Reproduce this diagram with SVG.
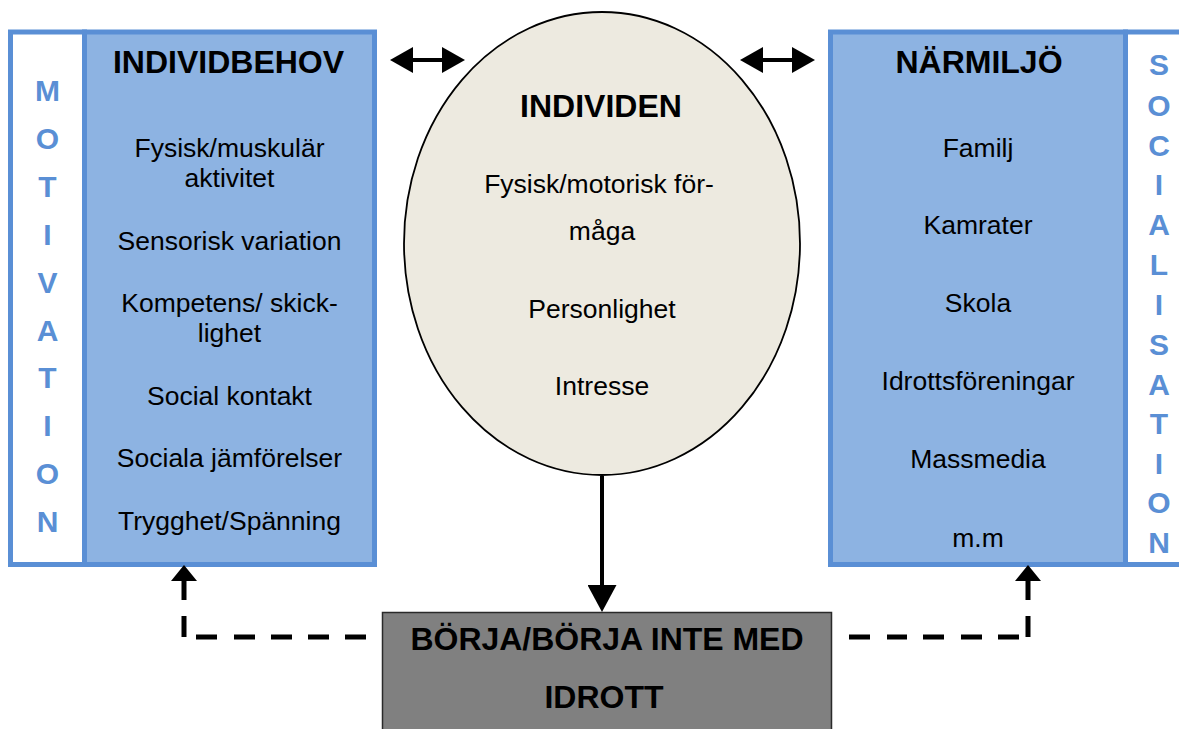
<svg xmlns="http://www.w3.org/2000/svg" width="1179" height="729" viewBox="0 0 1179 729">
<style>
  text { font-family: "Liberation Sans", Arial, sans-serif; text-anchor: middle; fill: #000; }
  .item { font-size: 26.5px; }
  .head { font-size: 32px; font-weight: bold; }
  .side { font-size: 30px; font-weight: bold; fill: #5a8fd5; }
  .panel { fill: #8db3e2; stroke: #5a8fd5; stroke-width: 5; }
  .white { fill: #ffffff; stroke: #5a8fd5; stroke-width: 5; }
  .solid { stroke: #000; stroke-width: 4; fill: none; }
  .dash { stroke: #000; stroke-width: 5; fill: none; }
</style>
<defs>
  <marker id="dbl" markerUnits="userSpaceOnUse" markerWidth="23" markerHeight="26" viewBox="0 0 23 26" refX="8" refY="13" orient="auto-start-reverse">
    <path d="M0,0 L23,13 L0,26 z" fill="#000"/>
  </marker>
  <marker id="down" markerUnits="userSpaceOnUse" markerWidth="27" markerHeight="29" viewBox="0 0 27 29" refX="0" refY="14.5" orient="auto">
    <path d="M0,0 L27,14.5 L0,29 z" fill="#000"/>
  </marker>
  <marker id="up" markerUnits="userSpaceOnUse" markerWidth="16" markerHeight="26" viewBox="0 0 16 26" refX="0" refY="13" orient="auto-start-reverse">
    <path d="M0,0 L16,13 L0,26 z" fill="#000"/>
  </marker>
</defs>
<rect width="1179" height="729" fill="#ffffff"/>

<g id="motivation">
  <rect class="white" x="10.5" y="32" width="74" height="532.5"/>
  <text class="side" x="47.5" y="101">M</text>
  <text class="side" x="47.5" y="149">O</text>
  <text class="side" x="47.5" y="197">T</text>
  <text class="side" x="47.5" y="245">I</text>
  <text class="side" x="47.5" y="293">V</text>
  <text class="side" x="47.5" y="341">A</text>
  <text class="side" x="47.5" y="388">T</text>
  <text class="side" x="47.5" y="436">I</text>
  <text class="side" x="47.5" y="484">O</text>
  <text class="side" x="47.5" y="532">N</text>
</g>

<g id="individbehov">
  <rect class="panel" x="84.5" y="32" width="290" height="532.5"/>
  <text class="head" x="228.5" y="73">INDIVIDBEHOV</text>
  <text class="item" x="229.5" y="157">Fysisk/muskulär</text>
  <text class="item" x="229.5" y="187">aktivitet</text>
  <text class="item" x="229.5" y="250">Sensorisk variation</text>
  <text class="item" x="229.5" y="312">Kompetens/ skick-</text>
  <text class="item" x="229.5" y="342">lighet</text>
  <text class="item" x="229.5" y="405">Social kontakt</text>
  <text class="item" x="229.5" y="467">Sociala jämförelser</text>
  <text class="item" x="229.5" y="530">Trygghet/Spänning</text>
</g>

<g id="individen">
  <ellipse cx="602" cy="243.5" rx="198" ry="231.5" fill="#edeae0" stroke="#000" stroke-width="1.8"/>
  <text class="head" x="601" y="117">INDIVIDEN</text>
  <text class="item" x="599" y="193">Fysisk/motorisk för-</text>
  <text class="item" x="602" y="240">måga</text>
  <text class="item" x="602" y="318">Personlighet</text>
  <text class="item" x="602" y="395">Intresse</text>
</g>

<g id="narmiljo">
  <rect class="panel" x="830.5" y="32" width="295" height="532.5"/>
  <text class="head" x="979" y="73">NÄRMILJÖ</text>
  <text class="item" x="978" y="157">Familj</text>
  <text class="item" x="978" y="234">Kamrater</text>
  <text class="item" x="978" y="312">Skola</text>
  <text class="item" x="978" y="390">Idrottsföreningar</text>
  <text class="item" x="978" y="468">Massmedia</text>
  <text class="item" x="978" y="547">m.m</text>
</g>

<g id="socialisation">
  <rect class="white" x="1125.5" y="32" width="70" height="532.5"/>
  <text class="side" x="1159" y="75">S</text>
  <text class="side" x="1159" y="116">O</text>
  <text class="side" x="1159" y="156">C</text>
  <text class="side" x="1159" y="195">I</text>
  <text class="side" x="1159" y="235">A</text>
  <text class="side" x="1159" y="275">L</text>
  <text class="side" x="1159" y="315">I</text>
  <text class="side" x="1159" y="355">S</text>
  <text class="side" x="1159" y="395">A</text>
  <text class="side" x="1159" y="434">T</text>
  <text class="side" x="1159" y="474">I</text>
  <text class="side" x="1159" y="513">O</text>
  <text class="side" x="1159" y="553">N</text>
</g>

<g id="borja">
  <rect x="382.5" y="612.5" width="449" height="130" fill="#808080" stroke="#2a2a2a" stroke-width="1.5"/>
  <text class="head" x="607" y="650" textLength="393" lengthAdjust="spacingAndGlyphs">BÖRJA/BÖRJA INTE MED</text>
  <text class="head" x="604" y="708">IDROTT</text>
</g>

<g id="connectors">
  <line class="solid" x1="405" y1="60" x2="450" y2="60" marker-start="url(#dbl)" marker-end="url(#dbl)"/>
  <line class="solid" x1="755" y1="60" x2="800" y2="60" marker-start="url(#dbl)" marker-end="url(#dbl)"/>
  <line class="solid" x1="602" y1="476" x2="602" y2="585" marker-end="url(#down)"/>
  <path class="dash" d="M184,581 V637 H366" stroke-dasharray="19 16 21 12 21 17 21 16 21 16 21 16 21 100" marker-start="url(#up)"/>
  <path class="dash" d="M1028,581 V637 H849" stroke-dasharray="19 16 21 9 21 16 21 17 21 16 20 17 21 100" marker-start="url(#up)"/>
</g>
</svg>
